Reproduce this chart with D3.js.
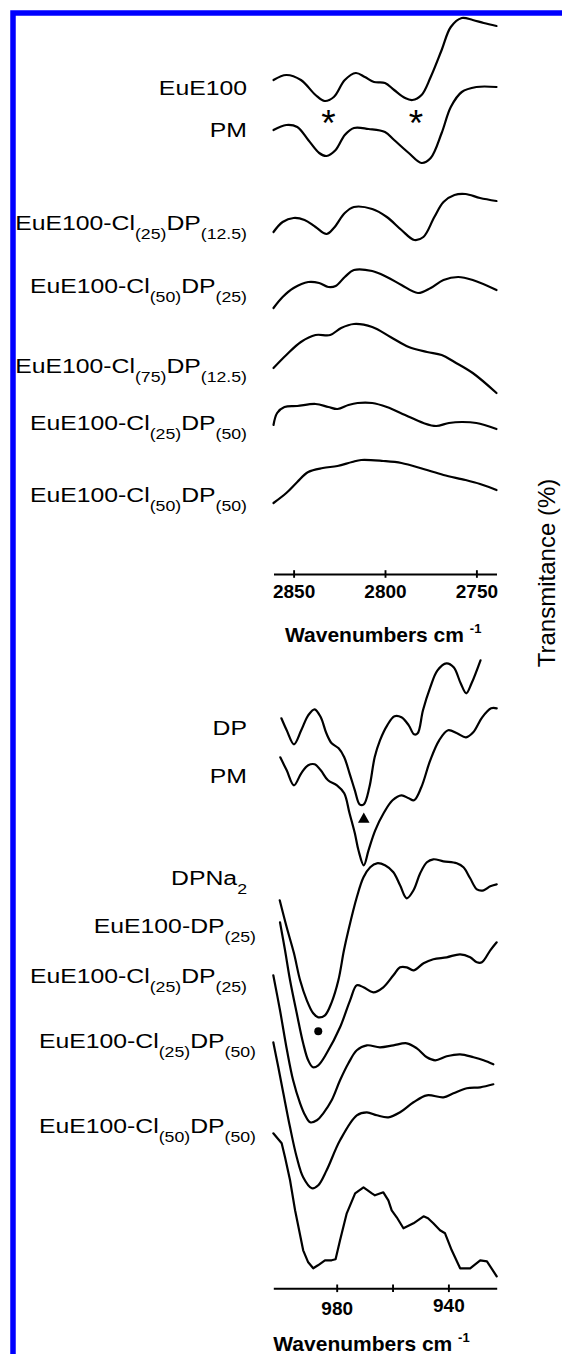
<!DOCTYPE html>
<html>
<head>
<meta charset="utf-8">
<script src="https://cdn.jsdelivr.net/npm/d3@7"></script>
<style>
  html, body { margin: 0; padding: 0; background: #fff; }
  svg { display: block; }
  text { font-family: "Liberation Sans", Arial, Helvetica, sans-serif; fill: #000; }
</style>
</head>
<body>
<svg id="chart" width="562" height="1354"></svg>
<script>
// ---------- C–H stretching region (cm-1, offset transmittance) ----------
const chTicks = [2850, 2800, 2750];
const chNames = [
  ["EuE100"],
  ["PM"],
  ["EuE100-Cl", "(25)", "DP", "(12.5)"],
  ["EuE100-Cl", "(50)", "DP", "(25)"],
  ["EuE100-Cl", "(75)", "DP", "(12.5)"],
  ["EuE100-Cl", "(25)", "DP", "(50)"],
  ["EuE100-Cl", "(50)", "DP", "(50)"]
];
const chLabelT = [479, 437, 344, 281, 201, 144, 72];

const chEuE100 = [[2861,494],[2854,499],[2846,494],[2838,479],[2833,473],[2828,477],[2822,494],[2816,501],[2811,497],[2806,492],[2800,491],[2795,484],[2789,476],[2785,474],[2780,479],[2775,497],[2769,524],[2764,547],[2758,556],[2752,554],[2746,551],[2739,548]];
const chPM = [[2861,444],[2854,449],[2848,447],[2842,434],[2836,421],[2832,418],[2827,424],[2822,439],[2817,446],[2809,445],[2800,442],[2795,434],[2787,421],[2780,411],[2775,416],[2769,441],[2764,467],[2758,482],[2750,487],[2739,487]];
const chCl25DP125 = [[2861,342],[2856,352],[2850,356],[2844,354],[2838,347],[2832,340],[2828,346],[2822,361],[2817,367],[2807,365],[2799,357],[2791,344],[2784,334],[2779,337],[2773,357],[2768,372],[2762,379],[2756,380],[2748,376],[2739,373]];
const chCl50DP25 = [[2861,266],[2856,277],[2850,286],[2842,292],[2836,291],[2831,287],[2827,288],[2822,297],[2817,304],[2807,303],[2799,297],[2791,289],[2782,281],[2775,286],[2768,294],[2760,297],[2752,294],[2739,284]];
const chCl75DP125 = [[2861,206],[2854,219],[2846,232],[2838,239],[2830,239],[2824,246],[2817,250],[2807,247],[2797,237],[2787,227],[2777,222],[2769,219],[2762,212],[2752,201],[2739,181]];
const chCl25DP50 = [[2861,149],[2859,161],[2855,167],[2848,168],[2838,170],[2831,167],[2826,165],[2820,169],[2815,171],[2807,171],[2799,167],[2789,159],[2779,151],[2772,148],[2765,151],[2758,152],[2750,151],[2739,145]];
const chCl50DP50 = [[2861,71],[2854,81],[2848,92],[2842,102],[2834,106],[2826,108],[2818,112],[2813,114],[2801,113],[2791,111],[2779,105],[2768,99],[2756,94],[2748,90],[2739,84]];
const chSeries = [chEuE100, chPM, chCl25DP125, chCl50DP25, chCl75DP125, chCl25DP50, chCl50DP50];
// bands marked with an asterisk
const chStars = [[2831, 459], [2783, 459]];

// ---------- P–O region (cm-1, offset transmittance) ----------
const poTicks = [980, 960, 940];
const poTickLabels = ["980", "", "940"];
const poNames = [
  ["DP"],
  ["PM"],
  ["DPNa", "2"],
  ["EuE100-DP", "(25)"],
  ["EuE100-Cl", "(25)", "DP", "(25)"],
  ["EuE100-Cl", "(25)", "DP", "(50)"],
  ["EuE100-Cl", "(50)", "DP", "(50)"]
];
const poLabelT = [553, 505, 403, 355, 305, 240, 155];

const poDP = [[999.8,570],[997.9,558],[995.3,544],[992.7,558],[990.2,573],[987.9,579],[985.7,571],[983.7,555],[981.8,545],[979.3,540],[977.3,531],[975.4,515],[973.5,498],[971.8,484],[970.3,484],[968.3,501],[966.4,531],[964.5,548],[961.9,563],[959.3,572],[956.8,571],[954.2,563],[952.3,554],[951.0,555],[949.1,578],[946.5,601],[943.9,618],[940.7,625],[938.1,621],[935.6,605],[933.6,595],[931.7,605],[928.5,628]];
const poPM = [[1000.2,531],[997.9,518],[995.3,503],[992.7,515],[990.2,523],[987.9,524],[985.7,518],[983.1,508],[979.9,503],[977.3,495],[975.4,475],[973.5,455],[972.2,438],[970.3,423],[968.6,438],[966.2,458],[963.2,475],[960.0,488],[956.8,493],[954.2,490],[952.3,488],[949.7,501],[946.5,528],[943.3,548],[940.1,558],[936.9,555],[933.7,551],[931.1,556],[927.9,571],[924.7,580],[922.7,580]];
const poDPNa2 = [[1000.4,388],[997.9,361],[995.3,335],[993.1,308],[990.7,288],[988.4,275],[986.6,271],[984.2,273],[981.8,286],[979.4,308],[977.4,338],[975.8,358],[972.8,391],[970.4,411],[968.0,421],[965.6,425],[962.7,423],[959.7,416],[957.3,403],[954.9,390],[952.5,398],[950.1,415],[947.7,426],[945.4,429],[941.8,427],[937.0,425],[934.6,421],[932.2,410],[929.8,399],[927.4,398],[925.0,402],[922.7,404]];
const poEuDP25 = [[1000.3,366],[998.5,338],[996.7,308],[994.3,275],[992.0,245],[990.2,228],[988.5,221],[986.6,223],[983.6,235],[978.8,261],[975.2,288],[972.8,303],[970.4,301],[966.9,296],[963.3,301],[959.7,313],[957.3,321],[954.9,321],[952.5,318],[948.9,325],[945.4,329],[940.6,331],[935.8,334],[932.2,331],[929.8,326],[928.0,326],[925.0,338],[922.7,346]];
const poCl25DP25 = [[1002.7,313],[1000.3,278],[997.8,238],[995.6,208],[993.1,185],[991.3,173],[989.5,166],[987.1,168],[984.8,175],[981.8,188],[978.8,208],[975.8,225],[972.8,238],[969.2,243],[964.5,241],[959.7,243],[954.9,245],[951.3,240],[947.7,231],[944.7,228],[940.6,232],[935.8,234],[931.0,231],[927.4,228],[923.9,224]];
const poCl25DP50 = [[1002.7,246],[1000.9,221],[999.1,195],[996.7,161],[994.3,131],[992.0,111],[988.9,100],[986.6,103],[983.6,118],[978.8,148],[972.8,173],[969.2,176],[965.6,173],[961.5,171],[957.3,176],[952.5,186],[947.7,193],[941.8,191],[938.2,195],[933.4,200],[928.6,201],[923.9,204]];
const poCl50DP50 = [[1002.7,155],[999.7,145],[998.5,131],[996.7,108],[994.9,78],[992.0,38],[990.2,26],[988.4,20],[986.7,23],[984.2,28],[981.8,28],[980.4,29],[978.8,48],[976.4,75],[975.2,83],[973.4,95],[970.4,101],[968.9,98],[967.4,95],[966.3,93],[963.3,96],[961.5,88],[960.3,78],[958.5,71],[956.1,60],[952.5,65],[948.9,72],[947.3,70],[945.4,65],[943.0,58],[941.2,55],[938.8,38],[935.8,20],[932.2,20],[928.6,28],[926.2,27],[922.7,12]];
const poSeries = [poDP, poPM, poDPNa2, poEuDP25, poCl25DP25, poCl25DP50, poCl50DP50];
// band markers: triangle on PM, dot on DPNa2
const poTriangle = [970.3, 469];
const poDot = [986.6, 257];

// ---------- layout ----------
const svg = d3.select("#chart");

svg.append("rect")
  .attr("x", 13).attr("y", 13)
  .attr("width", 620).attr("height", 1400)
  .attr("fill", "none")
  .attr("stroke", "#0000ff")
  .attr("stroke-width", 5.5);

const xTop = d3.scaleLinear().domain([2861, 2739]).range([273.5, 496.5]);
const yTop = d3.scaleLinear().domain([0, 560]).range([574, 14]);
const xBot = d3.scaleLinear().domain([1002.7, 922.7]).range([273.3, 496.7]);
const yBot = d3.scaleLinear().domain([0, 700]).range([1288.3, 588.3]);

function drawSeries(list, x, y, curves) {
  list.forEach((pts, i) => {
    const line = d3.line()
      .x(d => x(d[0]))
      .y(d => y(d[1]))
      .curve(curves[i]);
    svg.append("path")
      .datum(pts)
      .attr("d", line)
      .attr("fill", "none")
      .attr("stroke", "#000")
      .attr("stroke-width", 2.2)
      .attr("stroke-linejoin", "round")
      .attr("stroke-linecap", "round");
  });
}

const smooth = d3.curveCatmullRom.alpha(0.5);
drawSeries(chSeries, xTop, yTop, chSeries.map(() => smooth));
drawSeries(poSeries, xBot, yBot, poSeries.map((s, i) => i === 6 ? d3.curveLinear : smooth));

// sample names with subscripts (odd segments are subscripts)
function drawName(segs, xRight, yBase) {
  const t = svg.append("text")
    .attr("transform", `translate(${xRight},${yBase}) scale(1.18,1)`)
    .attr("text-anchor", "end")
    .style("font-size", "21px");
  let down = false;
  segs.forEach((s, i) => {
    const ts = t.append("tspan").text(s);
    if (i % 2 === 1) { ts.attr("dy", 9).style("font-size", "15px"); down = true; }
    else if (down) { ts.attr("dy", -9); down = false; }
  });
}

chNames.forEach((segs, i) => drawName(segs, 247, yTop(chLabelT[i])));
const poRight = [247, 247, 247, 256, 247, 256, 256];
poNames.forEach((segs, i) => drawName(segs, poRight[i], yBot(poLabelT[i])));

// markers
chStars.forEach(d => {
  svg.append("text")
    .attr("x", xTop(d[0]))
    .attr("y", yTop(d[1]) + 21)
    .attr("text-anchor", "middle")
    .style("font-size", "37px")
    .text("*");
});
svg.append("path")
  .attr("d", d3.symbol(d3.symbolTriangle, 58)())
  .attr("transform", `translate(${xBot(poTriangle[0])},${yBot(poTriangle[1])})`)
  .attr("fill", "#000");
svg.append("circle")
  .attr("cx", xBot(poDot[0]))
  .attr("cy", yBot(poDot[1]))
  .attr("r", 4)
  .attr("fill", "#000");

// axes with ticks crossing the baseline
function drawAxis(scale, ticks, labels, yAxis, labelY) {
  const g = svg.append("g")
    .attr("transform", `translate(0,${yAxis})`)
    .call(d3.axisBottom(scale)
      .tickValues(ticks)
      .tickFormat((d, i) => labels[i])
      .tickSizeOuter(0));
  g.select(".domain").attr("stroke", "#000").attr("stroke-width", 1.9);
  g.selectAll(".tick line")
    .attr("y1", -3.8).attr("y2", 3.8)
    .attr("stroke", "#000").attr("stroke-width", 1.9);
  g.selectAll(".tick text")
    .attr("y", labelY)
    .attr("dy", 0)
    .style("font-family", "'Liberation Sans', Arial, sans-serif")
    .style("font-size", "19px")
    .style("font-weight", "bold")
    .attr("fill", "#000");
  return g;
}
drawAxis(xTop, chTicks, chTicks.map(String), 574, 23.7);
drawAxis(xBot, poTicks, poTickLabels, 1288.3, d => d === 940 ? 23.4 : 26.7);

function drawTitle(x, yBase) {
  const t = svg.append("text")
    .attr("x", x).attr("y", yBase)
    .style("font-size", "21px")
    .style("font-weight", "bold")
    .style("white-space", "pre");
  t.append("tspan").text("Wavenumbers cm ");
  t.append("tspan").attr("dy", -9).style("font-size", "13px").text("-1");
}
drawTitle(285, 641.7);
drawTitle(273.3, 1351);

svg.append("text")
  .attr("transform", "translate(555,573) rotate(-90)")
  .attr("text-anchor", "middle")
  .style("font-size", "24px")
  .text("Transmitance (%)");
</script>
</body>
</html>
